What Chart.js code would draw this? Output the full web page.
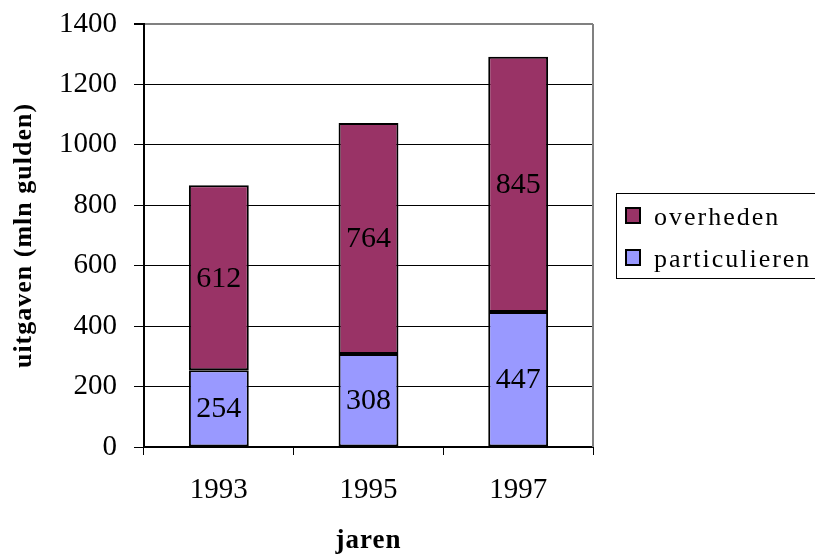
<!DOCTYPE html>
<html><head><meta charset="utf-8">
<script src="https://cdn.jsdelivr.net/npm/chart.js@4/dist/chart.umd.min.js"></script>
<style>html,body{margin:0;padding:0;background:#fff}</style>
</head><body>
<canvas id="c" width="815" height="555"></canvas>
<script>
const categories = ['1993', '1995', '1997'];
const particulieren = [254, 308, 447];
const overheden = [612, 764, 845];
const seriesNames = ['particulieren', 'overheden'];
const seriesColors = ['#9999FF', '#993366'];
const yMin = 0, yMax = 1400, yStep = 200;
const xTitle = 'jaren';
const yTitle = 'uitgaven (mln gulden)';

const SERIF = '"Liberation Serif", "Times New Roman", serif';

const labelsPlugin = {
  id: 'segLabels',
  afterDatasetsDraw(chart) {
    const ctx = chart.ctx;
    ctx.save();
    ctx.font = '30px ' + SERIF;
    ctx.fillStyle = '#000';
    ctx.textAlign = 'center';
    ctx.textBaseline = 'middle';
    chart.data.datasets.forEach((ds, di) => {
      const meta = chart.getDatasetMeta(di);
      meta.data.forEach((el, i) => {
        const y = (el.y + el.base) / 2;
        ctx.fillText(String(ds.data[i]), el.x, y + 1);
      });
    });
    ctx.restore();
  }
};

const framePlugin = {
  id: 'frame',
  afterDraw(chart) {
    const { ctx, chartArea: a } = chart;
    ctx.save();
    ctx.strokeStyle = '#808080';
    ctx.lineWidth = 2;
    ctx.beginPath();
    ctx.moveTo(a.right, a.top);
    ctx.lineTo(a.right, a.bottom);
    ctx.stroke();

    ctx.fillStyle = '#000';
    ctx.font = 'bold 27px ' + SERIF;
    ctx.letterSpacing = '1px';
    ctx.textAlign = 'center';
    ctx.textBaseline = 'alphabetic';
    ctx.fillText(xTitle, (a.left + a.right) / 2, 548);
    ctx.font = 'bold 26px ' + SERIF;
    ctx.save();
    ctx.translate(31, (a.top + a.bottom) / 2);
    ctx.rotate(-Math.PI / 2);
    ctx.fillText(yTitle, 0, 0);
    ctx.restore();

    const ds = chart.data.datasets.slice().reverse();
    const x0 = a.right + 23;
    const h = 85;
    const y0 = (a.top + a.bottom) / 2 - h / 2;
    ctx.strokeStyle = '#000';
    ctx.lineWidth = 1;
    ctx.strokeRect(x0 + 0.5, y0 + 0.5, chart.width - x0 + 10, h);
    ctx.font = '26px ' + SERIF;
    ctx.letterSpacing = '2px';
    ctx.textAlign = 'left';
    ds.forEach((d, i) => {
      const base = y0 + 32 + i * 42;
      ctx.fillStyle = d.backgroundColor;
      ctx.fillRect(x0 + 10, base - 17, 14, 15);
      ctx.lineWidth = 2;
      ctx.strokeStyle = '#000';
      ctx.strokeRect(x0 + 10, base - 17, 14, 15);
      ctx.fillStyle = '#000';
      ctx.fillText(d.label, x0 + 38, base);
    });
    ctx.restore();
  }
};

new Chart(document.getElementById('c'), {
  type: 'bar',
  data: {
    labels: categories,
    datasets: [
      { label: seriesNames[0], data: particulieren, backgroundColor: seriesColors[0] },
      { label: seriesNames[1], data: overheden, backgroundColor: seriesColors[1] }
    ]
  },
  options: {
    responsive: false,
    animation: false,
    devicePixelRatio: 1,
    layout: { padding: { top: 24, right: 222, left: 0, bottom: 0 } },
    datasets: {
      bar: {
        borderColor: '#000',
        borderWidth: 2,
        borderSkipped: false,
        barPercentage: 0.4,
        categoryPercentage: 1.0
      }
    },
    plugins: { legend: { display: false }, tooltip: { enabled: false } },
    scales: {
      x: {
        stacked: true,
        afterFit(s) { s.height = 108; s.paddingLeft = 0; s.paddingRight = 0; },
        grid: { offset: true, drawOnChartArea: false, drawTicks: true, tickLength: 8, color: '#000', tickColor: '#000', lineWidth: 1 },
        border: { color: '#000', width: 2 },
        ticks: { color: '#000', font: { family: SERIF, size: 29 }, padding: 18 }
      },
      y: {
        stacked: true,
        min: yMin, max: yMax,
        afterFit(s) { s.width = 144; s.paddingTop = 0; s.paddingBottom = 0; },
        grid: {
          color: (c) => (c.tick && c.tick.value === yMax) ? '#808080' : '#000',
          tickColor: '#000', lineWidth: (c) => (c.tick && c.tick.value === yMax) ? 2 : 1,
          tickLength: 10, drawTicks: true
        },
        border: { color: '#000', width: 2 },
        ticks: { stepSize: yStep, color: '#000', font: { family: SERIF, size: 29 }, padding: 17,
          callback: (v) => String(v) }
      }
    }
  },
  plugins: [labelsPlugin, framePlugin]
});
</script>
</body></html>
